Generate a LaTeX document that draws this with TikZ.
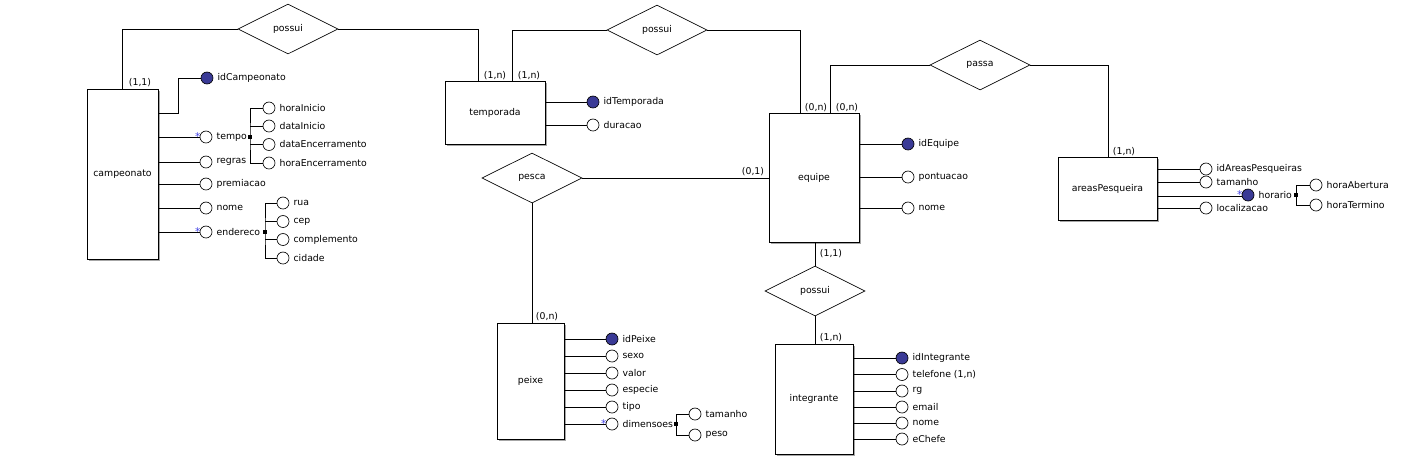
\documentclass[tikz,border=0pt]{standalone}
\usepackage{fontspec}
\setmainfont{DejaVu Sans}
\usetikzlibrary{shapes.geometric,shadows,calc}
\definecolor{keyblue}{RGB}{58,58,150}
\definecolor{starblue}{RGB}{70,70,230}
\begin{document}
\begin{tikzpicture}[x=0.75pt,y=-0.75pt,
 every node/.style={font=\fontsize{7}{8}\selectfont},
 ent/.style={draw, fill=white, line width=0.6pt, inner sep=0pt,
   drop shadow={shadow xshift=1.6pt, shadow yshift=-1.6pt, fill=black!35, opacity=1}},
 rel/.style={diamond, draw, fill=white, aspect=2, minimum width=75pt, minimum height=37.5pt, inner sep=0pt, line width=0.5pt},
 attr/.style={circle, draw, fill=white, minimum size=9pt, inner sep=0pt, line width=0.5pt},
 key/.style={attr, fill=keyblue},
 lbl/.style={inner sep=0pt, anchor=west, xshift=3pt},
 multi/.style={label={[text=starblue, inner sep=0pt, font=\fontsize{8}{8}\selectfont, anchor=base east, yshift=-2.8pt, xshift=0.8pt]180:*}},
 comp/.style={draw, fill=black, minimum size=2.2pt, inner sep=0pt},
 card/.style={inner sep=0pt},
 conn/.style={line width=0.6pt}]
\useasboundingbox[fill=white] (0,0) rectangle (1401,462);

% entities
\node[ent, minimum width=53.25pt, minimum height=127.5pt] (camp) at (122.5,174) {campeonato};
\node[ent, minimum width=75pt, minimum height=47.25pt] (temp) at (495,112.5) {temporada};
\node[ent, minimum width=67.5pt, minimum height=96.75pt] (equipe) at (814,177.5) {equipe};
\node[ent, minimum width=74.25pt, minimum height=47.25pt] (areas) at (1107.5,188.5) {areasPesqueira};
\node[ent, minimum width=50.25pt, minimum height=87pt] (peixe) at (530.5,381) {peixe};
\node[ent, minimum width=58.5pt, minimum height=82.5pt] (integ) at (814,399) {integrante};

% relationships
\node[rel] (r1) at (288,29) {possui};
\node[rel] (r2) at (657,30) {possui};
\node[rel] (passa) at (980,65) {passa};
\node[rel] (pesca) at (532,178) {pesca};
\node[rel] (r3) at (815,291) {possui};

% relationship connectors
\draw[conn] (camp.north) |- (r1.west);
\draw[conn] (r1.east) -| ($(temp.north west)+(34,0)$);
\draw[conn] ($(temp.north west)+(68,0)$) |- (r2.west);
\draw[conn] (r2.east) -| ($(equipe.north west)+(32,0)$);
\draw[conn] ($(equipe.north west)+(62,0)$) |- (passa.west);
\draw[conn] (passa.east) -| ($(areas.north west)+(51,0)$);
\draw[conn] (pesca.east) -- (pesca.east -| equipe.west);
\draw[conn] (pesca.south) -- (pesca.south |- peixe.north);
\draw[conn] (r3.north |- equipe.south) -- (r3.north);
\draw[conn] (r3.south) -- (r3.south |- integ.north);

% cardinalities
\node[card] (c1) at (140,83) {(1,1)};
\node[card] (c2) at (495,76) {(1,n)};
\node[card] (c3) at (529,76) {(1,n)};
\node[card] (c4) at (816,108) {(0,n)};
\node[card] (c5) at (847,108) {(0,n)};
\node[card] (c6) at (1124,152) {(1,n)};
\node[card] (c7) at (753,172) {(0,1)};
\node[card] (c8) at (547,317) {(0,n)};
\node[card] (c9) at (831,254) {(1,1)};
\node[card] (c10) at (831,338) {(1,n)};

% campeonato attributes
\node[key, label={[lbl]right:idCampeonato}] (aidc) at (207,78) {};
\node[attr, multi, label={[lbl]right:tempo}] (atempo) at (206,137) {};
\node[attr, label={[lbl]right:regras}] (aregras) at (206,162) {};
\node[attr, label={[lbl]right:premiacao}] (aprem) at (206,184) {};
\node[attr, label={[lbl]right:nome}] (anome) at (206,208) {};
\node[attr, multi, label={[lbl]right:endereco}] (aend) at (206,232) {};
\draw[conn] (camp.east |- 0,113) -- ++(20,0) |- (aidc);
\foreach \a in {atempo,aregras,aprem,anome,aend} \draw[conn] (camp.east |- \a) -- (\a);

\node[attr, label={[lbl]right:horaInicio}] (hI) at (269,108) {};
\node[attr, label={[lbl]right:dataInicio}] (dI) at (269,126) {};
\node[attr, label={[lbl]right:dataEncerramento}] (dE) at (269,144.5) {};
\node[attr, label={[lbl]right:horaEncerramento}] (hE) at (269,163) {};
\coordinate (cT) at (250,137);
\draw[conn] (hI.west) -| (cT) |- (hE.west);
\draw[conn] (cT |- dI) -- (dI.west);
\draw[conn] (cT |- dE) -- (dE.west);
\node[comp] (sqT) at (cT) {};

\node[attr, label={[lbl]right:rua}] (er) at (283,203) {};
\node[attr, label={[lbl]right:cep}] (ec) at (283,221.5) {};
\node[attr, label={[lbl]right:complemento}] (ek) at (283,239.5) {};
\node[attr, label={[lbl]right:cidade}] (ed) at (283,258) {};
\coordinate (cE) at (265,232);
\draw[conn] (er.west) -| (cE) |- (ed.west);
\draw[conn] (cE |- ec) -- (ec.west);
\draw[conn] (cE |- ek) -- (ek.west);
\node[comp] (sqE) at (cE) {};

% temporada attributes
\node[key, label={[lbl]right:idTemporada}] (aidt) at (593,102) {};
\node[attr, label={[lbl]right:duracao}] (adur) at (593,125) {};
\foreach \a in {aidt,adur} \draw[conn] (temp.east |- \a) -- (\a);

% equipe attributes
\node[key, label={[lbl]right:idEquipe}] (aide) at (908,144) {};
\node[attr, label={[lbl]right:pontuacao}] (apont) at (908,177) {};
\node[attr, label={[lbl]right:nome}] (anomee) at (908,208) {};
\foreach \a in {aide,apont,anomee} \draw[conn] (equipe.east |- \a) -- (\a);

% integrante attributes
\node[key, label={[lbl]right:idIntegrante}] (ii1) at (902,358) {};
\node[attr, label={[lbl]right:telefone (1,n)}] (ii2) at (902,374.5) {};
\node[attr, label={[lbl]right:rg}] (ii3) at (902,391) {};
\node[attr, label={[lbl]right:email}] (ii4) at (902,407) {};
\node[attr, label={[lbl]right:nome}] (ii5) at (902,423) {};
\node[attr, label={[lbl]right:eChefe}] (ii6) at (902,439) {};
\foreach \a in {ii1,ii2,ii3,ii4,ii5,ii6} \draw[conn] (integ.east |- \a) -- (\a);

% peixe attributes
\node[key, label={[lbl]right:idPeixe}] (p1) at (612,339) {};
\node[attr, label={[lbl]right:sexo}] (p2) at (612,356) {};
\node[attr, label={[lbl]right:valor}] (p3) at (612,373) {};
\node[attr, label={[lbl]right:especie}] (p4) at (612,390) {};
\node[attr, label={[lbl]right:tipo}] (p5) at (612,407) {};
\node[attr, multi, label={[lbl]right:dimensoes}] (p6) at (612,424) {};
\foreach \a in {p1,p2,p3,p4,p5,p6} \draw[conn] (peixe.east |- \a) -- (\a);
\node[attr, label={[lbl]right:tamanho}] (pt) at (695,414) {};
\node[attr, label={[lbl]right:peso}] (pp) at (695,435) {};
\coordinate (cD) at (676,424);
\draw[conn] (pt.west) -| (cD) |- (pp.west);
\node[comp] (sqD) at (cD) {};

% areasPesqueira attributes
\node[attr, label={[lbl]right:idAreasPesqueiras}] (q1) at (1206,169) {};
\node[attr, label={[lbl]right:tamanho}] (q2) at (1206,182) {};
\node[attr, label={[lbl]right:localizacao}] (q4) at (1206,208) {};
\foreach \a in {q1,q2,q4} \draw[conn] (areas.east |- \a) -- (\a);
\draw[conn] (areas.east |- 0,196) -- (1242,196);
\node[key, multi, label={[lbl]right:horario}] (q3) at (1248,195) {};
\node[attr, label={[lbl]right:horaAbertura}] (qa) at (1316,185) {};
\node[attr, label={[lbl]right:horaTermino}] (qt) at (1316,205) {};
\coordinate (cH) at (1296,195);
\draw[conn] (qa.west) -| (cH) |- (qt.west);
\node[comp] (sqH) at (cH) {};
\end{tikzpicture}
\end{document}
